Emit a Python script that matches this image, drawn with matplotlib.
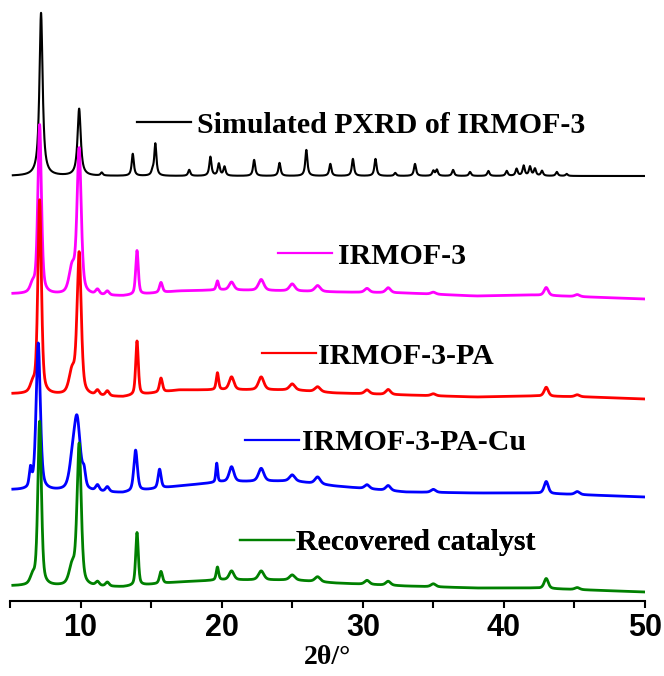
import numpy as np
import matplotlib.pyplot as plt
from matplotlib.lines import Line2D

# %%
# 2theta grid (degrees)
two_theta = np.arange(5.2, 50.001, 0.01)

# simulated IRMOF-3 pattern: peak position, height, width
sim_pos = [7.2, 9.9, 11.5, 13.7, 15.1, 15.3, 17.7, 19.2, 19.8, 20.2, 22.3, 24.1, 26.0,
           27.7, 29.3, 30.9, 32.3, 33.7, 35.0, 35.25, 36.4, 37.6, 38.9, 40.2, 40.9,
           41.4, 41.85, 42.2, 42.7, 43.75, 44.45]
sim_amp = [163, 67, 3, 22, 4, 32, 6, 19, 12, 9, 16, 13, 26, 12, 17, 17, 3, 12, 5, 6,
           6, 4, 5, 5, 7, 10, 9, 7, 5, 4, 2]
sim_base = 425

# measured patterns share the same reflections
exp_pos = [6.6, 7.1, 9.4, 9.9, 11.2, 11.9, 14.0, 15.7, 19.7, 20.7, 22.8, 25.0, 26.8,
           30.3, 31.8, 35.0, 43.0, 45.2]
exp_fwhm = [0.4, 0.3, 0.5, 0.35, 0.3, 0.3, 0.22, 0.25, 0.2, 0.4, 0.45, 0.45, 0.45,
            0.4, 0.4, 0.4, 0.35, 0.4]

irmof_amp = [8, 169, 25, 144, 5, 4, 44, 10, 9, 8, 11, 7, 6, 4, 5, 2, 8, 2]
pa_amp = [8, 194, 22, 141, 5, 5, 54, 14, 17, 13, 13, 6, 5, 4, 5, 2, 9, 2]
rec_amp = [8, 164, 18, 141, 4, 4, 53, 12, 13, 9, 9, 5, 5, 4, 4, 3, 10, 2]

# the Cu sample has split / broadened low-angle peaks
cu_pos = [6.45, 7.0, 9.4, 9.75, 10.25, 11.2, 11.9, 13.9, 15.6, 19.65, 20.7, 22.8, 25.0,
          26.8, 30.3, 31.8, 35.0, 43.0, 45.2]
cu_amp = [18, 147, 20, 70, 14, 6, 5, 41, 19, 19, 15, 13, 6, 7, 4, 5, 3, 12, 3]
cu_fwhm = [0.2, 0.35, 0.5, 0.55, 0.25, 0.3, 0.3, 0.3, 0.25, 0.15, 0.4, 0.45, 0.45,
           0.45, 0.4, 0.4, 0.4, 0.35, 0.4]

# baselines (stacked offsets) read at a few angles
base_x = [5, 13, 17, 20, 25, 28, 33, 38, 42, 46, 50]
irmof_base = [307, 305, 310, 311, 310, 309, 308, 305, 306, 304, 302]
pa_base = [207, 204, 211, 211, 211, 208, 206, 204, 205, 204, 202]
cu_base = [111, 108, 115, 119, 120, 115, 109, 108, 108, 106, 104]
rec_base = [15, 14, 19, 21, 21, 18, 15, 13, 13, 11, 9]

labels = ["Simulated PXRD of IRMOF-3", "IRMOF-3", "IRMOF-3-PA", "IRMOF-3-PA-Cu",
          "Recovered catalyst"]
colors = ["black", "#ff00ff", "#ff0000", "#0000ff", "#008000"]


# %%
def pattern(x, pos, amp, fwhm, eta=0.5):
    y = np.zeros_like(x)
    for p, a, w in zip(pos, amp, fwhm):
        lor = 1 / (1 + ((x - p) / (w / 2)) ** 2)
        gau = np.exp(-4 * np.log(2) * ((x - p) / w) ** 2)
        y += a * (eta * lor + (1 - eta) * gau)
    return y


sim = sim_base + pattern(two_theta, sim_pos, sim_amp,
                         [0.27, 0.27] + [0.18] * (len(sim_pos) - 2), eta=0.9)
irmof = np.interp(two_theta, base_x, irmof_base) + pattern(two_theta, exp_pos, irmof_amp, exp_fwhm)
pa = np.interp(two_theta, base_x, pa_base) + pattern(two_theta, exp_pos, pa_amp, exp_fwhm)
cu = np.interp(two_theta, base_x, cu_base) + pattern(two_theta, cu_pos, cu_amp, cu_fwhm)
rec = np.interp(two_theta, base_x, rec_base) + pattern(two_theta, exp_pos, rec_amp, exp_fwhm)

curves = [sim, irmof, pa, cu, rec]
widths = [1.5, 2, 2, 2, 2]

# %%
fig = plt.figure(figsize=(6.64, 6.76), dpi=100)
ax = fig.add_axes([10 / 664, 75 / 676, 635 / 664, 596 / 676])

for y, c, lw in zip(curves, colors, widths):
    ax.plot(two_theta, y, color=c, lw=lw)

ax.set_xlim(5, 50)
ax.set_ylim(0, 596)
ax.set_xticks([10, 20, 30, 40, 50])
ax.set_xticks([5, 15, 25, 35, 45], minor=True)
ax.tick_params(axis="x", which="both", direction="out", length=5, width=1.5, pad=4)
for lab in ax.get_xticklabels():
    lab.set_fontfamily("Liberation Sans")
    lab.set_fontweight("bold")
    lab.set_fontsize(22)
ax.set_yticks([])
for s in ["left", "right", "top"]:
    ax.spines[s].set_visible(False)
ax.spines["bottom"].set_linewidth(1.5)

ax.set_xlabel("2θ/°", fontfamily="Liberation Serif", fontweight="bold",
              fontsize=20, labelpad=1)

# one small legend per trace, key line followed by its name
key_at = [(14.0, 476, 0.2), (23.99, 345, 0.2), (22.86, 245, 0.07),
          (21.65, 158, 0.1), (21.30, 58, 0.07)]
for lab, c, lw, (kx, ky, pad) in zip(labels, colors, widths, key_at):
    h = Line2D([], [], color=c, lw=1.6)
    leg = ax.legend(handles=[h], labels=[lab], loc="center left",
                    bbox_to_anchor=(kx, ky), bbox_transform=ax.transData,
                    frameon=False, borderpad=0, borderaxespad=0,
                    handlelength=1.8, handletextpad=pad,
                    prop={"family": "Liberation Serif", "weight": "bold", "size": 21.5})
    ax.add_artist(leg)

fig.savefig("out.png", dpi=100)
